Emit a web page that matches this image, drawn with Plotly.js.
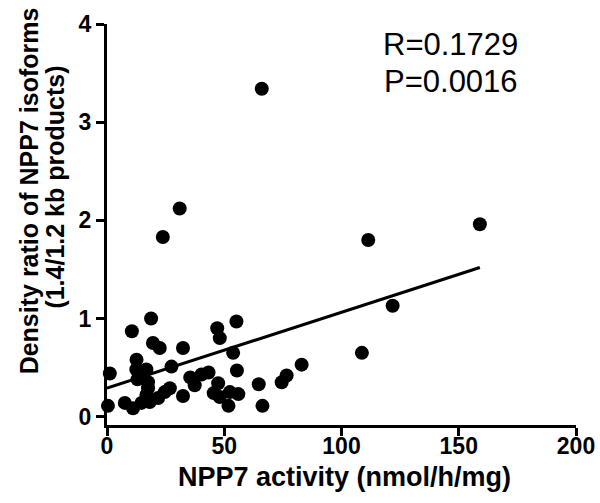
<!DOCTYPE html>
<html>
<head>
<meta charset="utf-8">
<script src="https://cdn.plot.ly/plotly-3.0.1.min.js"></script>
<style>
  html, body { margin: 0; padding: 0; background: #fff; }
  #chart { width: 600px; height: 503px; }
</style>
</head>
<body>
<div id="chart"></div>
<script>
// NPP7 activity (nmol/h/mg)
const activity = [0.4, 1.2, 7.6, 11.1, 10.6, 18.8, 19.6, 22.5, 32.4, 12.6,
                  12.5, 16.8, 27.5, 13.0, 17.5, 17.5, 14.7, 16.8, 18.2, 21.8,
                  24.6, 26.8, 32.4, 35.5, 37.4, 40.3, 43.3, 47.0, 48.1, 55.2,
                  53.8, 55.4, 47.4, 45.5, 48.1, 52.4, 56.0, 51.8, 64.7, 66.3,
                  74.5, 76.6, 83.0, 108.7, 121.8, 111.4, 159.0, 66.0, 31.0, 23.8];
// Density ratio of NPP7 isoforms (1.4/1.2 kb products)
const densityRatio = [0.11, 0.44, 0.14, 0.085, 0.87, 1.00, 0.75, 0.70, 0.70, 0.58,
                      0.48, 0.48, 0.51, 0.38, 0.35, 0.29, 0.14, 0.22, 0.15, 0.19,
                      0.25, 0.29, 0.21, 0.40, 0.32, 0.43, 0.45, 0.90, 0.80, 0.97,
                      0.65, 0.47, 0.34, 0.24, 0.20, 0.25, 0.23, 0.11, 0.33, 0.11,
                      0.35, 0.42, 0.53, 0.65, 1.13, 1.80, 1.96, 3.34, 2.12, 1.83];
// Regression line end points
const fitX = [0, 159];
const fitY = [0.29, 1.52];
// Statistics
const statR = "R=0.1729";
const statP = "P=0.0016";
// Axis ticks
const xTicks = [0, 50, 100, 150, 200];
const yTicks = [0, 1, 2, 3, 4];

const FONT = "Liberation Sans, Arial, sans-serif";

const traces = [
  {
    x: fitX, y: fitY, type: "scatter", mode: "lines",
    line: { color: "#000", width: 3 }, hoverinfo: "skip", showlegend: false
  },
  {
    x: activity, y: densityRatio, type: "scatter", mode: "markers",
    marker: { color: "#000", size: 14 }, cliponaxis: false, showlegend: false
  }
];

const layout = {
  width: 600, height: 503,
  margin: { l: 107, r: 24, t: 24, b: 78, pad: 0 },
  paper_bgcolor: "#fff", plot_bgcolor: "#fff",
  font: { family: FONT, color: "#000" },
  xaxis: {
    range: [0, 200], tickvals: xTicks, ticktext: xTicks.map(String),
    showgrid: false, zeroline: false, showline: true, linecolor: "#000", linewidth: 3,
    ticks: "outside", ticklen: 8, tickwidth: 3, tickcolor: "#000",
    ticklabelstandoff: -10,
    tickfont: { family: FONT, size: 23, color: "#000", weight: "bold" }
  },
  yaxis: {
    range: [-0.085, 4], tickvals: yTicks, ticktext: yTicks.map(String),
    showgrid: false, zeroline: false, showline: true, linecolor: "#000", linewidth: 3,
    ticks: "outside", ticklen: 8, tickwidth: 3, tickcolor: "#000",
    tickfont: { family: FONT, size: 23, color: "#000", weight: "bold" }
  },
  annotations: [
    { text: "<b>NPP7 activity (nmol/h/mg)</b>", xref: "paper", yref: "paper",
      x: 0.506, y: -0.13, xanchor: "center", yanchor: "middle", showarrow: false,
      font: { family: FONT, size: 27, color: "#000" } },
    { text: "<b>Density ratio of NPP7 isoforms</b>", textangle: -90, xref: "paper", yref: "paper",
      x: -0.166, y: 0.583, xanchor: "center", yanchor: "middle", showarrow: false,
      font: { family: FONT, size: 25, color: "#000" } },
    { text: "<b>(1.4/1.2 kb products)</b>", textangle: -90, xref: "paper", yref: "paper",
      x: -0.11, y: 0.593, xanchor: "center", yanchor: "middle", showarrow: false,
      font: { family: FONT, size: 25, color: "#000" } },
    { text: statR, xref: "paper", yref: "paper", x: 0.733, y: 0.948,
      xanchor: "center", yanchor: "middle", showarrow: false,
      font: { family: FONT, size: 31, color: "#000" } },
    { text: statP, xref: "paper", yref: "paper", x: 0.733, y: 0.857,
      xanchor: "center", yanchor: "middle", showarrow: false,
      font: { family: FONT, size: 31, color: "#000" } }
  ]
};

Plotly.newPlot("chart", traces, layout, { staticPlot: true, displayModeBar: false });
</script>
</body>
</html>
